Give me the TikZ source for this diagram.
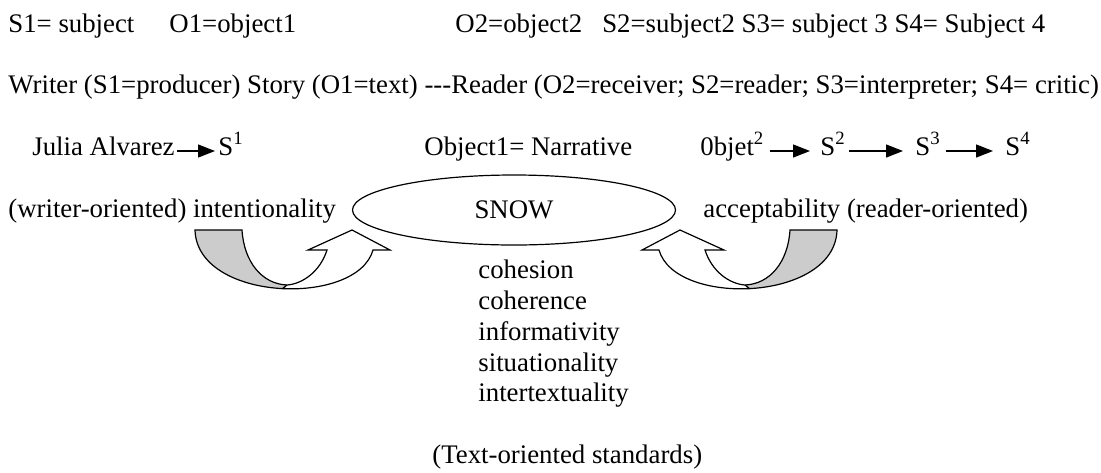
\documentclass[tikz,border=0pt]{standalone}
\usepackage{fontspec}
\setmainfont{Liberation Serif}
\usetikzlibrary{arrows.meta,positioning,shapes.geometric,calc}

\definecolor{bandgray}{gray}{0.8}

\tikzset{
  txt/.style={inner sep=0pt, anchor=base west, font=\fontsize{13.4pt}{15pt}\selectfont},
  link/.style={-{Triangle[length=8.5pt,width=6.5pt]}, line width=0.65pt},
  curl/.pic={
    % grey back face of the bent arrow
    \begin{scope}
      \clip (-92,-57) .. controls (-90,15) and (70,20) .. (86,-37) -- (103,-37) -- (65,-57)
        -- (21,-37) -- (40,-37) .. controls (33,-15) and (15,-3) .. (0,-2)
        .. controls (-25,-3) and (-43,-25) .. (-45,-57) -- cycle;
      \fill[bandgray] (-100,-70) -- (0,-70) -- (0,-2) -- (-6,10) -- (-100,10) -- cycle;
    \end{scope}
    % outline
    \draw[line width=0.6pt] (-92,-57) .. controls (-90,15) and (70,20) .. (86,-37) -- (103,-37) -- (65,-57)
      -- (21,-37) -- (40,-37) .. controls (33,-15) and (15,-3) .. (0,-2)
      .. controls (-25,-3) and (-43,-25) .. (-45,-57) -- cycle;
    \draw[line width=0.6pt] (0,-2) -- (-5,2);
  }
}

\begin{document}
\begin{tikzpicture}[x=0.5pt,y=-0.5pt]
  \useasboundingbox (0,0) rectangle (1101,472);

  % Legend lines
  \node[txt] (def1) at (8,32)   {S1= subject};
  \node[txt] (def2) at (169,32) {O1=object1};
  \node[txt] (def3) at (455,32) {O2=object2\ \ \ S2=subject2 S3= subject 3 S4= Subject 4};
  \node[txt] (roles) at (8,93)  {Writer (S1=producer) Story (O1=text) {-}{-}{-}Reader (O2=receiver; S2=reader; S3=interpreter; S4= critic)};

  % Chain of subjects
  \node[txt] (julia) at (32,155)   {Julia Alvarez};
  \node[txt] (s1)    at (218,155)  {S\textsuperscript{1}};
  \node[txt] (obj1)  at (424,155)  {Object1= Narrative};
  \node[txt] (obj2)  at (700,155)  {0bjet\textsuperscript{2}};
  \node[txt] (s2)    at (820,155)  {S\textsuperscript{2}};
  \node[txt] (s3)    at (915,155)  {S\textsuperscript{3}};
  \node[txt] (s4)    at (1005,155) {S\textsuperscript{4}};

  \draw[link] ($(julia.base east)+(2,-4)$) -- ($(s1.base west)+(-3,-4)$);
  \draw[link] ($(obj2.base east)+(5,-4)$) -- ($(s2.base west)+(-10,-4)$);
  \draw[link] ($(s2.base east)+(3,-4)$) -- ($(s3.base west)+(-12,-4)$);
  \draw[link] ($(s3.base east)+(5,-4)$) -- ($(s4.base west)+(-12,-4)$);

  % The text and its two orientations
  \node[draw, ellipse, line width=0.6pt, minimum width=161.5pt, minimum height=35pt,
        font=\fontsize{13.4pt}{15pt}\selectfont] (snow) at (514,210) {SNOW};
  \node[txt] (writer) at (8,217)   {(writer-oriented) intentionality};
  \node[txt] (reader) at (703,217) {acceptability (reader-oriented)};

  \pic at (287,287) {curl};
  \pic[xscale=-1] at (745,287) {curl};

  % Text-oriented standards
  \foreach \w [count=\i] in {cohesion, coherence, informativity, situationality, intertextuality}
    \node[txt] (std\i) at (478,{278.6+30.8*(\i-1)}) {\w};
  \node[txt] (textor) at (432,463) {(Text-oriented standards)};
\end{tikzpicture}
\end{document}
